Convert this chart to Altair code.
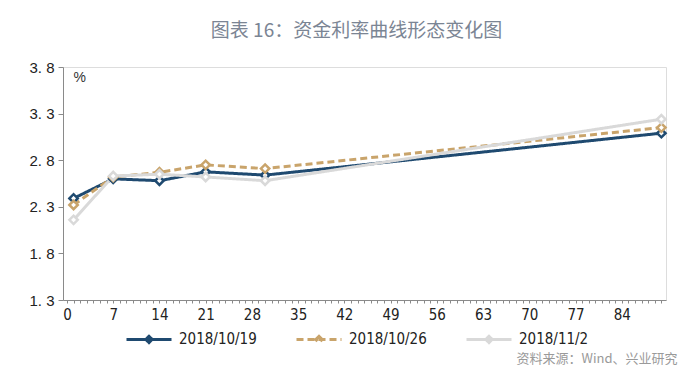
import altair as alt
import pandas as pd

tenor = [1, 7, 14, 21, 30, 90]
series_names = ["2018/10/19", "2018/10/26", "2018/11/2"]
r1019 = [2.39, 2.60, 2.58, 2.675, 2.64, 3.09]
r1026 = [2.32, 2.62, 2.67, 2.75, 2.71, 3.15]
r1102 = [2.16, 2.63, 2.65, 2.62, 2.58, 3.24]
y_ticks = [1.3, 1.8, 2.3, 2.8, 3.3, 3.8]
x_ticks = list(range(0, 91))
colors = ["#1f4a70", "#c9a46b", "#d9d9d9"]
dashes = [[1, 0], [7, 4], [1, 0]]

rows = []
for name, vals in zip(series_names, [r1019, r1026, r1102]):
    for t, v in zip(tenor, vals):
        rows.append({"tenor": t, "rate": v, "series": name})
df = pd.DataFrame(rows)

narrow = "DejaVu Sans Condensed, Liberation Sans Narrow, Liberation Sans"
cjk = "Noto Sans CJK SC"

x_enc = alt.X(
    "tenor:Q",
    scale=alt.Scale(domain=[-0.6, 90.7], nice=False, zero=False),
    axis=alt.Axis(
        values=x_ticks,
        labelExpr="(datum.value % 7 == 0 && datum.value <= 84) ? datum.label : ''",
        grid=False,
        tickSize=3,
        labelPadding=4,
        labelFont=narrow,
        labelFontSize=15,
        labelColor="#222222",
        domainColor="#8a8a8a",
        tickColor="#8a8a8a",
        labelFlush=False,
        labelOverlap=False,
        labelBound=False,
        title="资料来源：Wind、兴业研究",
        titleFont=cjk,
        titleFontSize=13,
        titleFontWeight="normal",
        titleColor="#9a9a9a",
        titleAlign="right",
        titleAnchor="end",
        titleBaseline="middle",
        titleX=614,
        titleY=58,
    ),
)
y_enc = alt.Y(
    "rate:Q",
    scale=alt.Scale(domain=[1.3, 3.8], nice=False, zero=False),
    axis=alt.Axis(
        values=y_ticks,
        labelExpr="replace(format(datum.value, '.1f'), '.', '. ')",
        grid=False,
        tickSize=5,
        labelPadding=4,
        labelFont="Liberation Sans",
        labelFontSize=15,
        labelColor="#222222",
        domainColor="#8a8a8a",
        tickColor="#8a8a8a",
        labelOverlap=False,
        title="%",
        titleAngle=0,
        titleAlign="left",
        titleBaseline="middle",
        titleFont="Liberation Sans",
        titleFontSize=14,
        titleFontWeight="normal",
        titleColor="#333333",
        titleX=10,
        titleY=10,
    ),
)

legend_path = "M-1,0L1,0M0,-0.14L0.14,0L0,0.14L-0.14,0Z"
legend_kw = dict(
    title=None,
    orient="none",
    legendX=62,
    legendY=248,
    direction="horizontal",
    symbolType=legend_path,
    symbolSize=2025,
    symbolStrokeWidth=3,
    labelOffset=6,
    columnPadding=33,
    labelFont=narrow,
    labelFontSize=15,
    labelColor="#222222",
)

lines = alt.Chart().mark_line(strokeWidth=3).encode(
    color=alt.Color(
        "series:N",
        scale=alt.Scale(domain=series_names, range=colors),
        sort=series_names,
        legend=alt.Legend(**legend_kw),
    ),
    strokeDash=alt.StrokeDash(
        "series:N",
        scale=alt.Scale(domain=series_names, range=dashes),
        sort=series_names,
        legend=alt.Legend(**legend_kw),
    ),
    order=alt.Order("tenor:Q"),
)

points = alt.Chart().mark_point(
    shape="diamond", filled=False, fill="white", fillOpacity=1, size=70, strokeWidth=2.5, opacity=1
).encode(
    stroke=alt.Stroke(
        "series:N",
        scale=alt.Scale(domain=series_names, range=colors),
        legend=None,
    ),
)

chart = (
    alt.layer(lines, points, data=df)
    .encode(x=x_enc, y=y_enc)
    .properties(
        width=603,
        height=233,
        autosize=alt.AutoSizeParams(type="none"),
        padding={"left": 55, "top": 59, "right": 20, "bottom": 75},
        title=alt.TitleParams(
            "图表 16：资金利率曲线形态变化图",
            font=cjk,
            fontSize=19,
            fontWeight="normal",
            color="#7b8594",
            anchor="middle",
            offset=19,
            dx=-8,
        ),
    )
    .configure_view(stroke=None)
    .configure(background="white")
)

chart.save("out.html", embed_options={"renderer": "svg", "actions": False})
